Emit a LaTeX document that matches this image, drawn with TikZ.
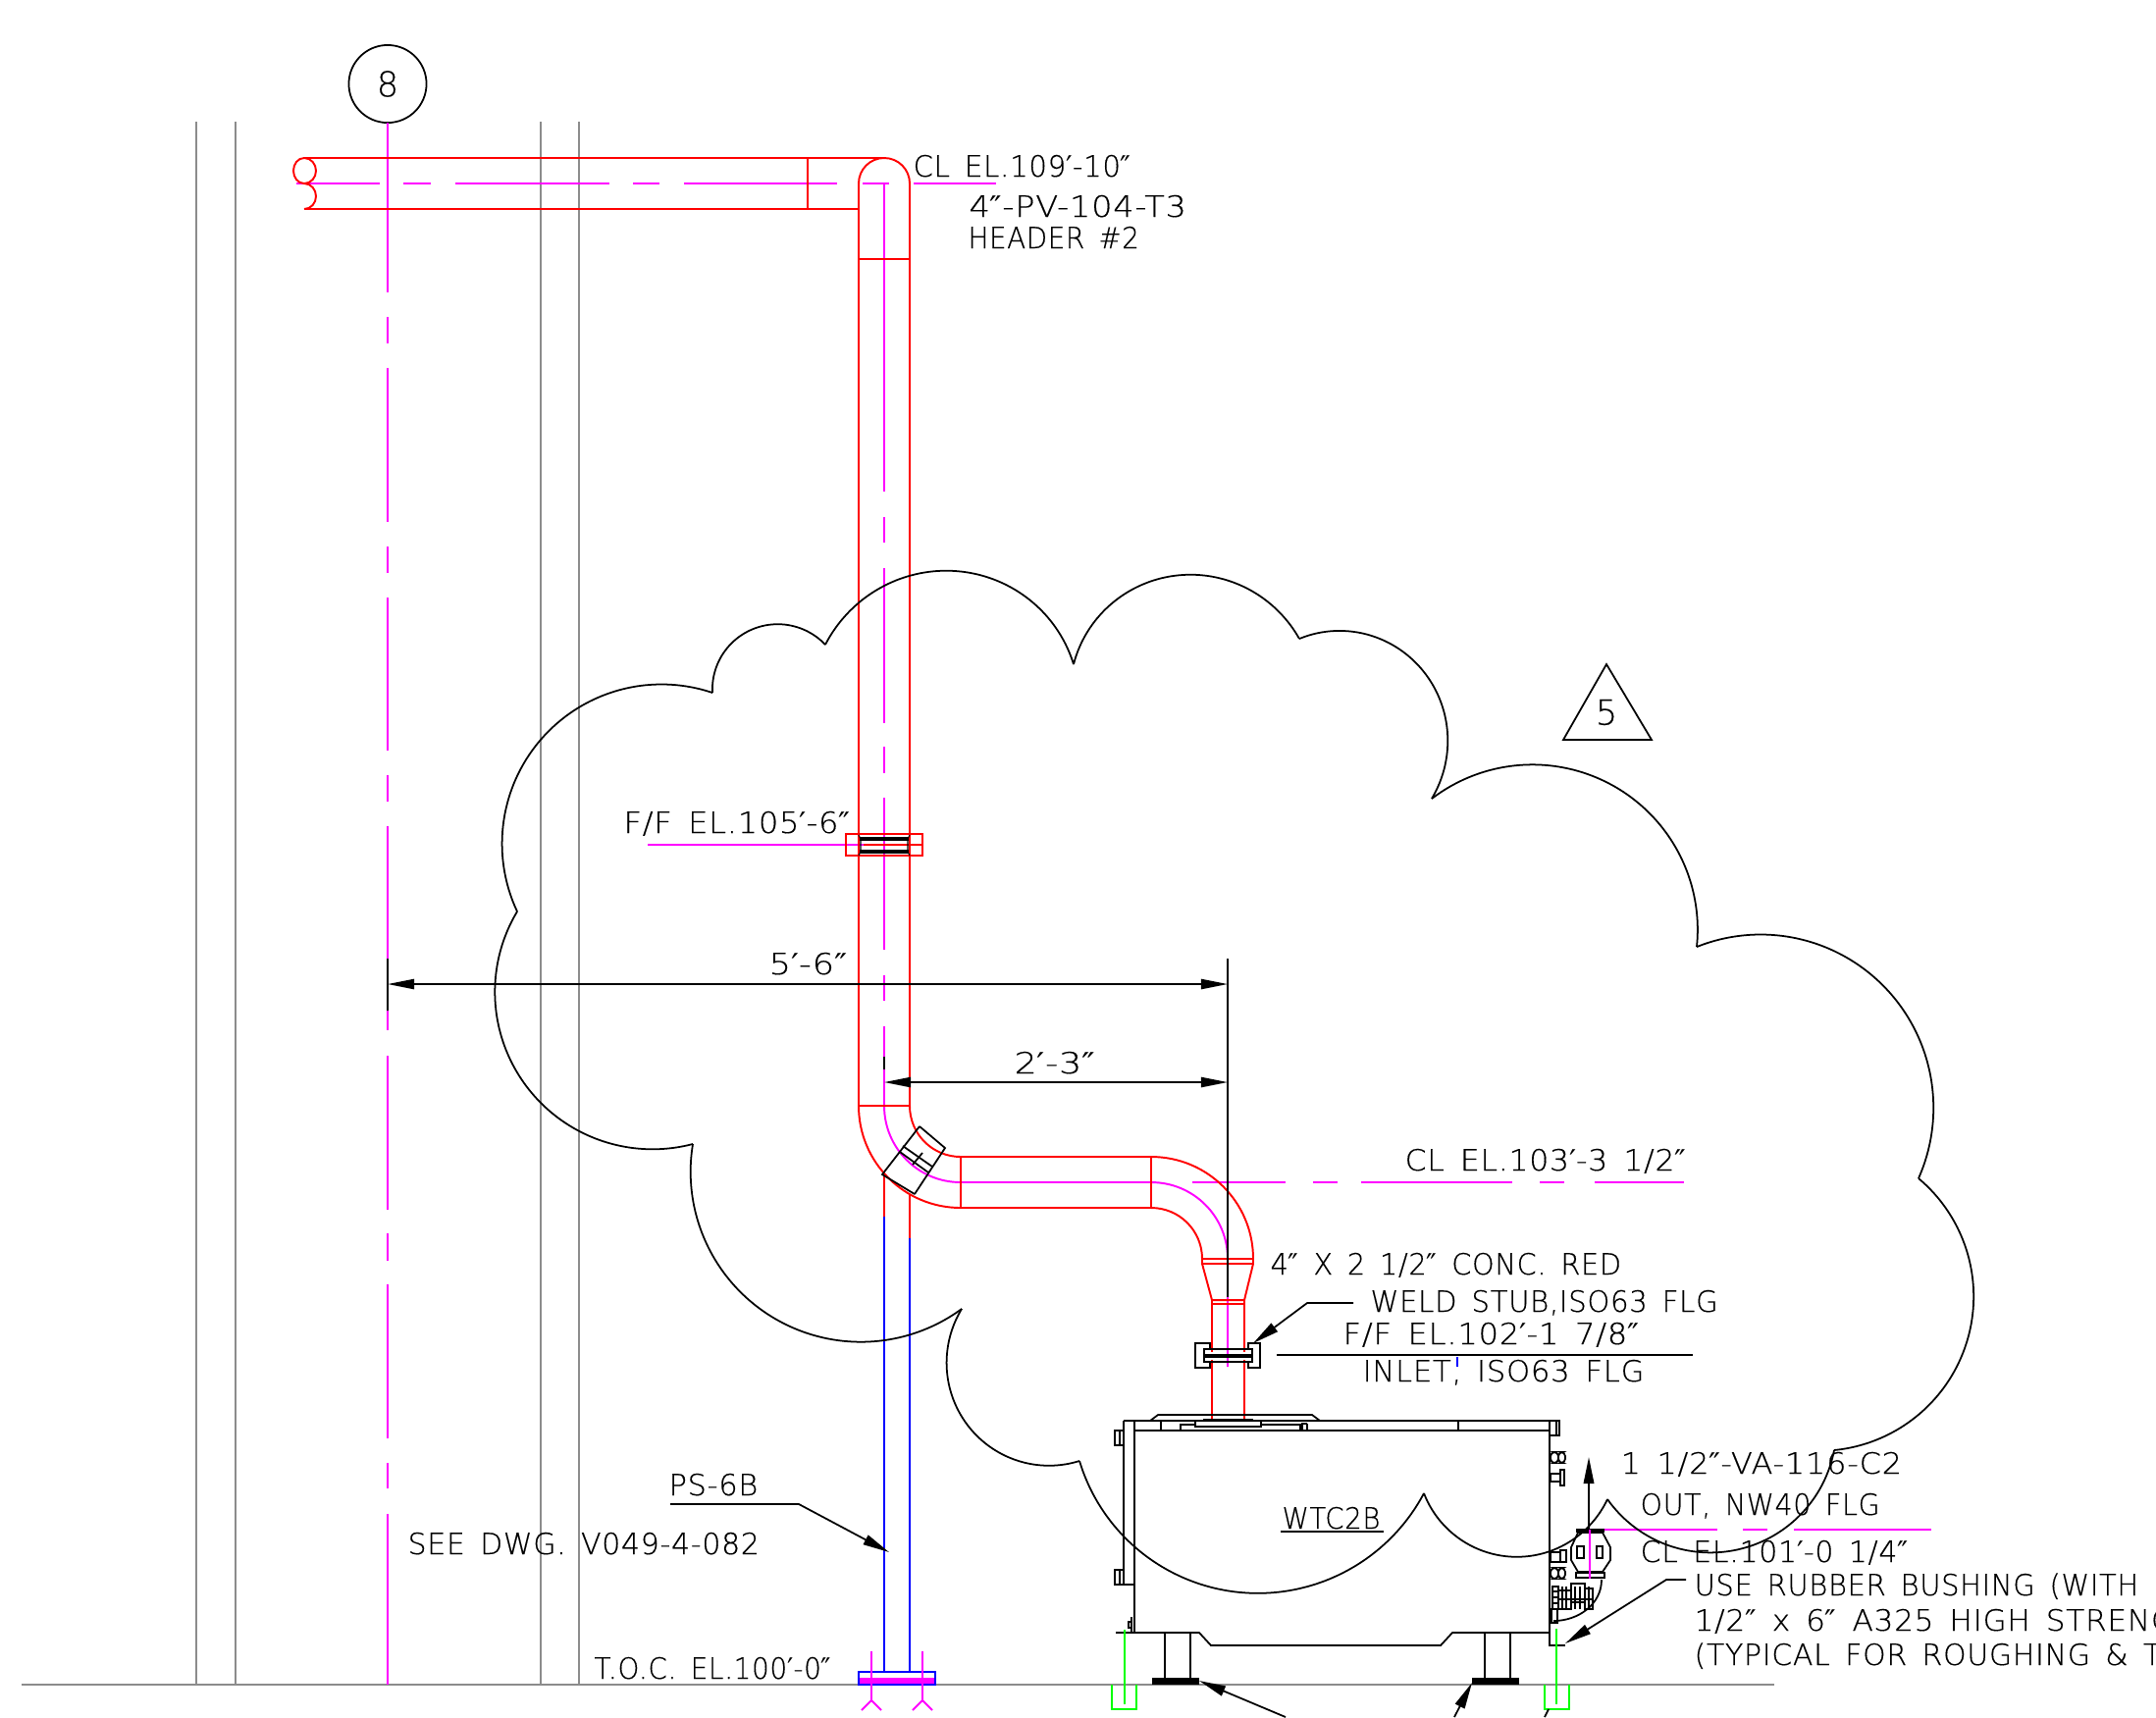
\documentclass[tikz,border=0pt]{standalone}
\usepackage{fontspec}
\usepackage{graphicx}
\usetikzlibrary{arrows.meta}
\newfontfamily\cadfont{DejaVu Sans}[UprightFont={* ExtraLight}, LetterSpace=2.5, WordSpace=1.5, FakeBold=0.35]
\newfontfamily\primefont{DejaVu Sans}
\newcommand{\ftm}{{\primefont ′}}
\newcommand{\inm}{{\primefont ″}}
\newcommand{\fitw}[2]{\scalebox{#1}[1]{#2}}

\definecolor{pipered}{RGB}{255,0,0}
\definecolor{cadmagenta}{RGB}{255,0,255}
\definecolor{cadblue}{RGB}{0,0,255}
\definecolor{cadgreen}{RGB}{0,255,0}
\definecolor{cadgrey}{RGB}{140,140,140}

\tikzset{
    lbl/.style={anchor=base west, inner sep=0pt, xshift=-0.6pt, font=\cadfont\fontsize{8.5}{10}\selectfont},
    cadline/.style={black, line width=0.5pt},
    pipeline/.style={pipered, line width=0.55pt},
    centerline/.style={cadmagenta, line width=0.55pt},
    blueline/.style={cadblue, line width=0.55pt},
    greenline/.style={cadgreen, line width=0.55pt},
    gridline/.style={cadgrey, line width=0.55pt},
    dimline/.style={black, line width=0.5pt, {Triangle[length=7.7pt,width=2.9pt]}-{Triangle[length=7.7pt,width=2.9pt]}},
    leader/.style={black, line width=0.5pt, -{Triangle[length=7.7pt,width=3pt]}},
}

% lobe of the revision cloud: centre, from, to
\newcommand{\cloudlobe}[6]{%
    \pgfmathsetmacro{\lobeA}{atan2(#4-#2,#3-#1)}
    \pgfmathsetmacro{\lobeC}{atan2(#6-#2,#5-#1)}
    \pgfmathsetmacro{\lobeB}{\lobeC<\lobeA ? \lobeC+360 : \lobeC}
    \pgfmathsetmacro{\lobeR}{veclen(#3-#1,#4-#2)}
    \pgfmathsetmacro{\lobeS}{veclen(#5-#1,#6-#2)}
    \draw[cadline] plot[domain=\lobeA:\lobeB, samples=50, smooth, variable=\t]
        ({#1+(\lobeR+(\lobeS-\lobeR)*(\t-\lobeA)/(\lobeB-\lobeA))*cos(\t)},
         {#2+(\lobeR+(\lobeS-\lobeR)*(\t-\lobeA)/(\lobeB-\lobeA))*sin(\t)});
}

\begin{document}
\begin{tikzpicture}[x=0.01cm, y=-0.01cm]
    \clip (0,0) rectangle (2197,1750);

    % Column lines and grade
    \foreach \gx in {200,240,551,590}
        \draw[gridline] (\gx,124) -- (\gx,1717);
    \draw[gridline] (22,1717) -- (1808,1717);

    % Grid bubble and its centre line
    \node[circle, draw, line width=0.5pt, minimum size=22.5pt, inner sep=0pt, font=\cadfont\fontsize{10}{10}\selectfont] (bubble) at (395,85.5) {8};
    \foreach \ya/\yb in {125/298,323/350,375/532,557/584,609/765,790/817,842/1050,1076/1233,1257/1285,1309/1466,1491/1517,1543/1717}
        \draw[centerline] (395,\ya) -- (395,\yb);

    % Centre lines of the header and the drop
    \foreach \xa/\xb in {302/387,411/439,464/621,645/672,697/853,879/906,931/1015}
        \draw[centerline] (\xa,187) -- (\xb,187);
    \foreach \ya/\yb in {187/501,527/553,579/737,761/788,813/968,994/1020,1046/1127}
        \draw[centerline] (901,\ya) -- (901,\yb);
    \foreach \xa/\xb in {1215/1310,1338/1363,1387/1541,1569/1594,1625/1716}
        \draw[centerline] (\xa,1205) -- (\xb,1205);
    \foreach \xa/\xb in {1609/1750,1776/1801,1828/1968}
        \draw[centerline] (\xa,1559) -- (\xb,1559);
    \draw[centerline] (660,861) -- (882,861);
    \draw[centerline] (901,1127) to[out=270,in=180] (979,1205) -- (1173,1205) to[out=0,in=90] (1251,1283) -- (1251,1393);

    % Header with broken end
    \draw[pipeline] (310,161) to[out=180,in=90] (299,174) to[out=270,in=180] (310,187) to[out=0,in=270] (322,174) to[out=90,in=0] (310,161);
    \draw[pipeline] (310,187) to[out=0,in=90] (322,200) to[out=270,in=0] (310,213);
    \draw[pipeline] (310,161) -- (901,161) to[out=0,in=90] (927,187) -- (927,1127);
    \draw[pipeline] (310,213) -- (875,213);
    \draw[pipeline] (875,213) -- (875,187) to[out=90,in=180] (901,161);
    \draw[pipeline] (875,213) -- (875,1127);
    \draw[pipeline] (823,161) -- (823,213);
    \draw[pipeline] (875,264) -- (927,264);

    % Flange at 105
    \draw[pipeline] (862,850) rectangle (940,872);
    \draw[pipeline, line width=0.8pt] (880,861) -- (940,861);
    \draw[cadline, line width=0.9pt] (876,855) -- (926,855);
    \draw[cadline, line width=0.9pt] (876,868) -- (926,868);
    \draw[cadline, line width=0.3pt] (875,851) -- (877,855) -- (877,868) -- (875,872);
    \draw[cadline, line width=0.3pt] (927,851) -- (925,855) -- (925,868) -- (927,872);

    % First bend and run
    \draw[pipeline] (875,1127) -- (927,1127);
    \draw[pipeline] (875,1127) to[out=270,in=180] (979,1231) -- (1173,1231) to[out=0,in=90] (1225,1283);
    \draw[pipeline] (927,1127) to[out=270,in=180] (979,1179) -- (1173,1179) to[out=0,in=90] (1277,1283);
    \draw[pipeline, line width=0.75pt] (979,1179) -- (979,1231);
    \draw[pipeline] (1173,1179) -- (1173,1231);
    \draw[pipeline] (901,1197) -- (901,1240);
    \draw[pipeline] (927,1217) -- (927,1262);

    % Reducer and stub
    \draw[pipeline] (1225,1283) -- (1277,1283);
    \draw[pipeline] (1225,1283) -- (1225,1288) -- (1277,1288) -- (1277,1283);
    \draw[pipeline] (1225,1288) -- (1235,1325) -- (1268,1325) -- (1277,1288);
    \draw[pipeline] (1235,1325) -- (1235,1329) -- (1268,1329) -- (1268,1325);
    \draw[pipeline] (1235,1329) -- (1235,1378);
    \draw[pipeline] (1268,1329) -- (1268,1378);
    \draw[pipeline] (1235,1386) -- (1235,1447);
    \draw[pipeline] (1268,1386) -- (1268,1447);

    % Inlet flange
    \draw[cadline] (1233,1375) -- (1233,1369) -- (1218,1369) -- (1218,1394) -- (1233,1394) -- (1233,1388);
    \draw[cadline] (1272,1375) -- (1272,1369) -- (1284,1369) -- (1284,1394) -- (1272,1394) -- (1272,1388);
    \draw[cadline] (1227,1375) rectangle (1276,1388);
    \draw[cadline, line width=0.9pt] (1227,1382) -- (1276,1382);

    % Valve on the bend
    \draw[cadline] (937,1148) -- (963,1170) -- (932,1217);
    \draw[cadline] (937,1148) -- (899,1197) -- (932,1217);
    \draw[cadline] (920,1168) -- (950,1189);
    \draw[cadline] (917,1174) -- (946,1195);
    \draw[cadline] (940,1175) -- (930,1187);

    % Support in blue
    \draw[blueline] (901,1240) -- (901,1704);
    \draw[blueline] (927,1262) -- (927,1704);
    \draw[centerline, fill=cadmagenta] (875,1711) rectangle (953,1717);
    \draw[blueline] (875,1704) rectangle (953,1717);
    \draw[centerline] (888,1683) -- (888,1733) -- (878,1743);
    \draw[centerline] (888,1733) -- (898,1743);
    \draw[centerline] (940,1683) -- (940,1733) -- (930,1743);
    \draw[centerline] (940,1733) -- (950,1743);

    % Revision cloud
    \foreach \cx/\cy/\ax/\ay/\bx/\by in {
        792/703/726/706/841/657,
        967/719/841/657/1094/677,
        1209/711/1094/677/1324/651,
        1361/751/1324/651/1459/814,
        1562/948/1459/814/1729/965,
        1793/1128/1729/965/1955/1201,
        1854/1321/1955/1201/1869/1478,
        1743/1454/1869/1478/1638/1528,
        1545/1485/1638/1528/1451/1522,
        1280/1433/1451/1522/1100/1489,
        1070/1390/1100/1489/980/1334,
        877/1194/980/1334/706/1166,
        664/1010/706/1166/527/929,
        674/860/527/929/726/706}
        {\cloudlobe{\cx}{\cy}{\ax}{\ay}{\bx}{\by}}

    % Revision triangle
    \coordinate (triA) at (1637,677);
    \coordinate (triB) at (1683,754);
    \coordinate (triC) at (1593,754);
    \draw[cadline] (triA) -- (triB) -- (triC) -- cycle;
    \node[font=\cadfont\fontsize{10}{10}\selectfont, inner sep=0pt] (revno) at (1637,726) {5};

    % Tank
    \draw[cadline] (1145,1448) -- (1589,1448) -- (1589,1463) -- (1579,1463);
    \draw[cadline] (1156,1458) -- (1579,1458);
    \draw[cadline] (1145,1448) -- (1145,1615) -- (1156,1615);
    \draw[cadline] (1156,1448) -- (1156,1664) -- (1222,1664) -- (1234,1677) -- (1468,1677) -- (1480,1664) -- (1579,1664);
    \draw[cadline] (1579,1448) -- (1579,1677) -- (1595,1677);
    \draw[cadline] (1586,1448) -- (1586,1463);
    \draw[cadline] (1136,1458) rectangle (1145,1473);
    \draw[cadline] (1136,1600) rectangle (1145,1615);
    \draw[cadline] (1141,1458) -- (1141,1473);
    \draw[cadline] (1141,1600) -- (1141,1615);
    \draw[cadline] (1172,1448) -- (1180,1442) -- (1337,1442) -- (1345,1448);
    \draw[cadline] (1218,1448) rectangle (1285,1454);
    \fill[black] (1226,1446) rectangle (1277,1448);
    \draw[cadline] (1183,1448) -- (1183,1458);
    \draw[cadline] (1203,1458) -- (1203,1452) -- (1218,1452);
    \draw[cadline] (1285,1452) -- (1325,1452) -- (1325,1458);
    \draw[cadline] (1332,1451) -- (1327,1451) -- (1327,1458);
    \draw[cadline] (1332,1451) -- (1332,1458);
    \draw[cadline] (1486,1448) -- (1486,1458);
    \draw[cadline] (1137,1664) -- (1156,1664);
    \draw[cadline] (1153,1648) -- (1153,1664);
    \draw[cadline] (1150,1653) rectangle (1153,1659);

    % Legs and anchors
    \foreach \lx in {1187,1213,1513,1539}
        \draw[cadline] (\lx,1664) -- (\lx,1710);
    \fill[black] (1174,1710) rectangle (1222,1717);
    \fill[black] (1500,1710) rectangle (1548,1717);
    \draw[greenline] (1146,1661) -- (1146,1737);
    \draw[greenline] (1133,1717) -- (1133,1742) -- (1158,1742) -- (1158,1717);
    \draw[greenline] (1586,1660) -- (1586,1737);
    \draw[greenline] (1574,1717) -- (1574,1742) -- (1599,1742) -- (1599,1717);

    % Fittings on the right wall
    \foreach \by in {1480,1598} {
        \draw[cadline, rounded corners=1.2pt] (1580,\by) rectangle (1588,\by+11);
        \draw[cadline, rounded corners=1.2pt] (1588,\by) rectangle (1595,\by+11);
    }
    \draw[cadline] (1580,1502) rectangle (1590,1510);
    \draw[cadline] (1590,1498) rectangle (1594,1514);
    \draw[cadline] (1580,1582) rectangle (1590,1592);
    \draw[cadline] (1590,1580) rectangle (1596,1592);
    \draw[cadline] (1608,1562) -- (1601,1577) -- (1601,1590) -- (1608,1602) -- (1633,1602) -- (1641,1590) -- (1641,1577) -- (1633,1562) -- cycle;
    \draw[cadline] (1607,1576) rectangle (1614,1588);
    \draw[cadline] (1627,1576) rectangle (1633,1588);
    \draw[cadline] (1606,1603) rectangle (1635,1608);
    \draw[cadline, line width=1pt] (1606,1560) -- (1635,1560);
    \draw[cadline] (1632,1610) to[out=270,in=0] (1583,1652);
    \draw[cadline] (1582,1617) rectangle (1588,1640);
    \draw[cadline] (1588,1621) rectangle (1601,1640);
    \draw[cadline] (1601,1614) rectangle (1615,1633);
    \draw[cadline] (1615,1619) rectangle (1623,1640);
    \foreach \hx in {1592,1596,1605,1610,1619}
        \draw[cadline] (\hx,1617) -- (\hx,1640);
    \foreach \hy in {1622,1628,1634}
        \draw[cadline] (1582,\hy) -- (1588,\hy);
    \draw[cadline] (1588,1630) -- (1623,1630);
    \draw[cadline] (1581,1640) rectangle (1587,1654);

    % Dimensions
    \coordinate (dimA) at (395,1003);
    \coordinate (dimB) at (1251,1003);
    \coordinate (dimC) at (901,1103);
    \coordinate (dimD) at (1251,1103);
    \draw[dimline] (dimA) -- (dimB);
    \draw[dimline] (dimC) -- (dimD);
    \draw[cadline] (1251,977) -- (1251,1322);
    \draw[cadline, line width=0.7pt] (395,977) -- (395,1030);
    \draw[cadline, line width=0.7pt] (901,1077) -- (901,1090);

    % Leaders
    \coordinate (weldA) at (1379,1328);
    \coordinate (weldB) at (1332,1328);
    \coordinate (weldC) at (1277,1369);
    \draw[leader] (weldA) -- (weldB) -- (weldC);
    \coordinate (bushA) at (1718,1610);
    \coordinate (bushB) at (1698,1610);
    \coordinate (bushC) at (1595,1675);
    \draw[leader] (bushA) -- (bushB) -- (bushC);
    \coordinate (psA) at (683,1533);
    \coordinate (psB) at (814,1533);
    \coordinate (psC) at (906,1582);
    \draw[leader] (psA) -- (psB) -- (psC);
    \coordinate (anchA) at (1310,1750);
    \coordinate (anchB) at (1222,1713);
    \draw[leader] (anchA) -- (anchB);
    \coordinate (anchC) at (1482,1750);
    \coordinate (anchD) at (1500,1715);
    \draw[leader] (anchC) -- (anchD);
    \draw[cadline] (1574,1750) -- (1578,1742);
    \coordinate (outA) at (1619,1559);
    \coordinate (outB) at (1619,1485);
    \draw[leader] (outA) -- (outB);
    \draw[centerline] (1620,1559) -- (1620,1609);

    % Flange lines
    \draw[cadline] (1301,1381) -- (1725,1381);
    \draw[blueline] (1485,1383) -- (1485,1393);
    \draw[cadline] (1305,1561) -- (1410,1561);

    % Labels
    \node[lbl] (elhdr) at (932,180) {\fitw{.976}{CL EL.109\ftm-10\inm}};
    \node[lbl] (linehdr) at (989,221) {\fitw{1.12}{4\inm-PV-104-T3}};
    \node[lbl] (namehdr) at (988,253) {\fitw{.925}{HEADER \#2}};
    \node[lbl] (elflg) at (637,849) {\fitw{1.07}{F/F EL.105\ftm-6\inm}};
    \node[lbl] (dimlong) at (785,993) {\fitw{1.18}{5\ftm-6\inm}};
    \node[lbl] (dimshort) at (1035,1094) {\fitw{1.22}{2\ftm-3\inm}};
    \node[lbl] (elrun) at (1433,1193) {\fitw{1.05}{CL EL.103\ftm-3 1/2\inm}};
    \node[lbl] (reducer) at (1296,1299) {\fitw{.962}{4\inm{} X 2 1/2\inm{} CONC. RED}};
    \node[lbl] (stub) at (1398,1337) {\fitw{.973}{WELD STUB,ISO63 FLG}};
    \node[lbl] (elinlet) at (1370,1370) {\fitw{1.075}{F/F EL.102\ftm-1 7/8\inm}};
    \node[lbl] (inlet) at (1390,1408) {\fitw{1.025}{INLET, ISO63 FLG}};
    \node[lbl] (tank) at (1308,1558) {\fitw{.92}{WTC2B}};
    \node[lbl] (vacline) at (1653,1502) {\fitw{1.07}{1 1/2\inm-VA-116-C2}};
    \node[lbl] (vacout) at (1673,1544) {\fitw{.95}{OUT, NW40 FLG}};
    \node[lbl] (elout) at (1673,1592) {\fitw{1.0}{CL EL.101\ftm-0 1/4\inm}};
    \node[lbl] (bushA1) at (1728,1626) {\fitw{.967}{USE RUBBER BUSHING (WITH}};
    \node[lbl] (bushA2) at (1728,1662) {\fitw{1.04}{1/2\inm{} x 6\inm{} A325 HIGH STRENG}};
    \node[lbl] (bushA3) at (1728,1697) {\fitw{1.0}{(TYPICAL FOR ROUGHING \& TU}};
    \node[lbl] (support) at (683,1524) {\fitw{1.015}{PS-6B}};
    \node[lbl] (seedwg) at (417,1584) {SEE DWG. V049-4-082};
    \node[lbl] (toc) at (607,1711) {\fitw{.93}{T.O.C. EL.100\ftm-0\inm}};

\end{tikzpicture}
\end{document}
